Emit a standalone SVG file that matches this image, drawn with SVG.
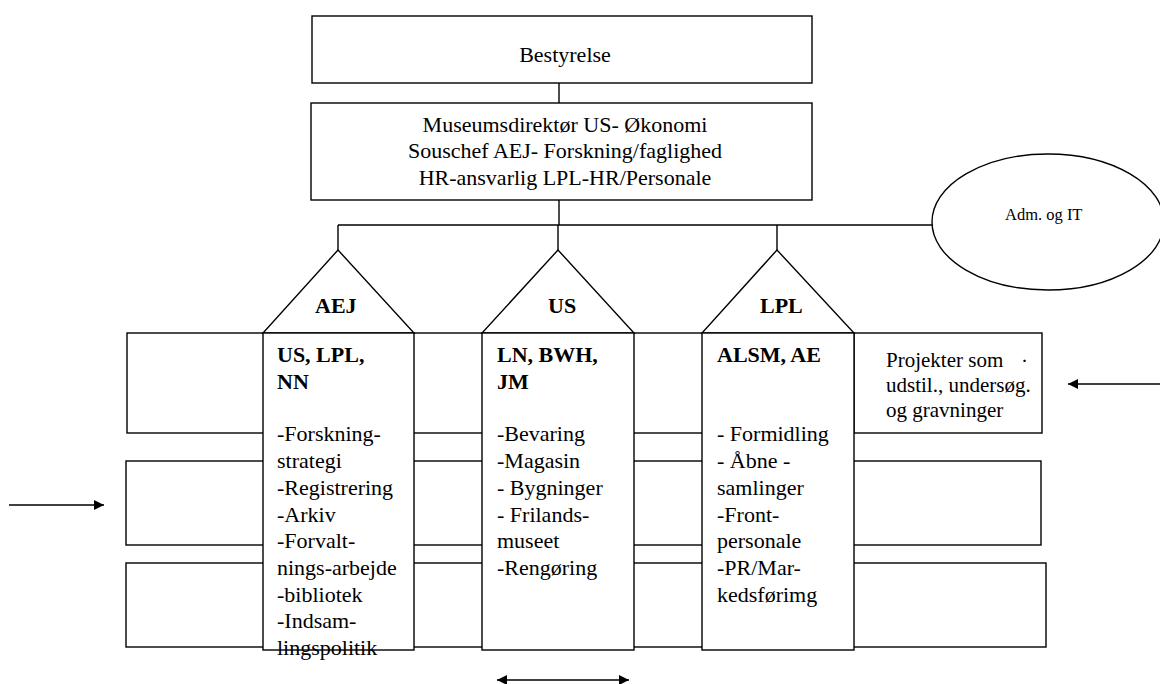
<svg xmlns="http://www.w3.org/2000/svg" width="1160" height="684" viewBox="0 0 1160 684">
<style>
.b{fill:#fff;stroke:#000;stroke-width:1.4}
.l{fill:none;stroke:#000;stroke-width:1.4}
text{font-family:"Liberation Serif","Times New Roman",serif;font-size:22px;fill:#000}
.bd{font-weight:bold}
.c{text-anchor:middle}
</style>
<defs>
<marker id="ah" viewBox="0 0 10 10" refX="10" refY="5" markerWidth="10" markerHeight="10" markerUnits="userSpaceOnUse" orient="auto-start-reverse">
<path d="M0,0 L10,5 L0,10 Z" fill="#000"/>
</marker>
</defs>
<rect width="1160" height="684" fill="#fff"/>
<g id="connectors">
<line class="l" x1="559" y1="83" x2="559" y2="103"/>
<line class="l" x1="559" y1="200" x2="559" y2="225"/>
<line class="l" x1="338" y1="225" x2="933" y2="225"/>
<line class="l" x1="338" y1="225" x2="338" y2="250"/>
<line class="l" x1="558" y1="225" x2="558" y2="250"/>
<line class="l" x1="777" y1="225" x2="777" y2="250"/>
<line class="l" x1="9" y1="505" x2="104" y2="505" marker-end="url(#ah)"/>
<line class="l" x1="1160" y1="384" x2="1068" y2="384" marker-end="url(#ah)"/>
<line class="l" x1="497" y1="680" x2="629" y2="680" marker-start="url(#ah)" marker-end="url(#ah)"/>
</g>
<g id="bestyrelse">
<rect class="b" x="312" y="16" width="500" height="67"/>
<text class="c" x="565" y="62">Bestyrelse</text>
</g>
<g id="direktion">
<rect class="b" x="311" y="103" width="501" height="97"/>
<text class="c" x="565" y="132">Museumsdirektør US- Økonomi</text>
<text class="c" x="565" y="158">Souschef AEJ- Forskning/faglighed</text>
<text class="c" x="565" y="185">HR-ansvarlig LPL-HR/Personale</text>
</g>
<g id="adm-it">
<ellipse class="b" cx="1048" cy="222" rx="116" ry="68"/>
<text x="1005" y="220" style="font-size:16.5px">Adm. og IT</text>
</g>
<g id="row1">
<rect class="b" x="127" y="333" width="727" height="100"/>
</g>
<g id="row2">
<rect class="b" x="126" y="461" width="915" height="84"/>
</g>
<g id="row3">
<rect class="b" x="126" y="563" width="920" height="84"/>
</g>
<g id="projekter">
<rect class="b" x="854" y="333" width="188" height="100"/>
<text x="886" y="367" style="font-size:21px">Projekter som</text>
<text x="1021" y="368" style="font-size:21px">·</text>
<text x="886" y="392" style="font-size:21px">udstil., undersøg.</text>
<text x="886" y="417" style="font-size:21px">og gravninger</text>
</g>
<g id="aej">
<polygon class="b" points="338,250 263,333 414,333"/>
<text class="bd" x="315" y="313">AEJ</text>
<rect class="b" x="263" y="333" width="151" height="317"/>
<text class="bd" x="277" y="362">US, LPL,</text>
<text class="bd" x="277" y="389">NN</text>
<text x="277" y="441">-Forskning-</text>
<text x="277" y="468">strategi</text>
<text x="277" y="495">-Registrering</text>
<text x="277" y="522">-Arkiv</text>
<text x="277" y="548">-Forvalt-</text>
<text x="277" y="575">nings-arbejde</text>
<text x="277" y="602">-bibliotek</text>
<text x="277" y="628">-Indsam-</text>
<text x="277" y="655">lingspolitik</text>
</g>
<g id="us">
<polygon class="b" points="558,250 482,333 634,333"/>
<text class="bd" x="548" y="313">US</text>
<rect class="b" x="482" y="333" width="152" height="317"/>
<text class="bd" x="497" y="362">LN, BWH,</text>
<text class="bd" x="497" y="389">JM</text>
<text x="497" y="441">-Bevaring</text>
<text x="497" y="468">-Magasin</text>
<text x="497" y="495">- Bygninger</text>
<text x="497" y="522">- Frilands-</text>
<text x="497" y="548">museet</text>
<text x="497" y="575">-Rengøring</text>
</g>
<g id="lpl">
<polygon class="b" points="777,250 702,333 854,333"/>
<text class="bd" x="760" y="313">LPL</text>
<rect class="b" x="702" y="333" width="152" height="317"/>
<text class="bd" x="717" y="362">ALSM, AE</text>
<text x="717" y="441">- Formidling</text>
<text x="717" y="468">- Åbne -</text>
<text x="717" y="495">samlinger</text>
<text x="717" y="522">-Front-</text>
<text x="717" y="548">personale</text>
<text x="717" y="575">-PR/Mar-</text>
<text x="717" y="602">kedsførimg</text>
</g>
</svg>
